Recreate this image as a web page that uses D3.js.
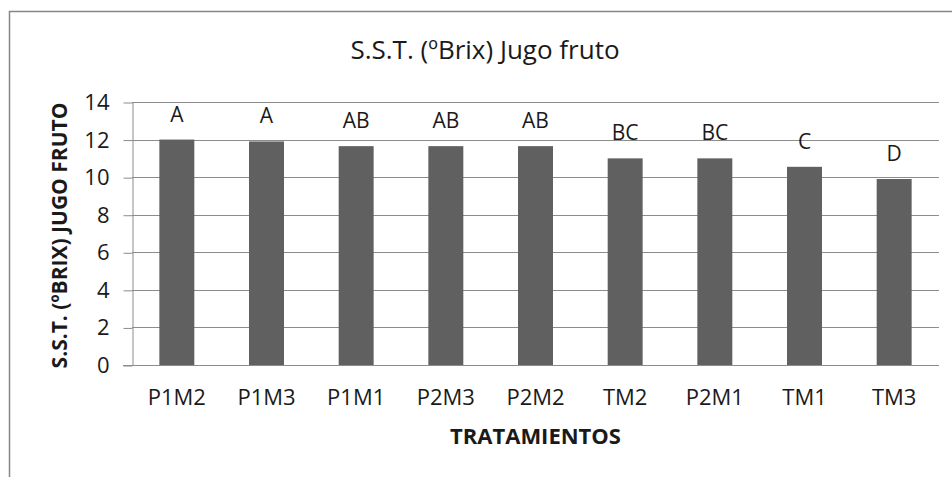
<!DOCTYPE html>
<html lang="es">
<head>
	<meta charset="UTF-8">
	<title>S.S.T. Jugo fruto</title>
	<script type="text/javascript" src="https://cdn.jsdelivr.net/npm/d3@7"></script>
	<style>
		body { margin: 0; background: #fff; }
		text { font-family: "Open Sans", "Noto Sans", sans-serif; fill: #1a1a1a; }
		.grid line { stroke: #8c8c8c; }
	</style>
</head>
<body>
<script type="text/javascript">
	// data
	var tratamientos = ['P1M2', 'P1M3', 'P1M1', 'P2M3', 'P2M2', 'TM2', 'P2M1', 'TM1', 'TM3'];
	var brix = [12.0, 11.9, 11.65, 11.65, 11.65, 11.0, 11.0, 10.55, 9.9];
	var letras = ['A', 'A', 'AB', 'AB', 'AB', 'BC', 'BC', 'C', 'D'];
	var yTicks = [0, 2, 4, 6, 8, 10, 12, 14];

	var W = 952, H = 477;
	var plot = {left: 132, right: 939, top: 102, bottom: 365};

	var svg = d3.select('body')
		.append('svg')
		.attr('width', W)
		.attr('height', H);

	// chart frame (runs past the right and bottom edges of the picture)
	svg.append('rect')
		.attr('x', 9.5)
		.attr('y', 11.5)
		.attr('width', 970)
		.attr('height', 500)
		.attr('fill', 'none')
		.attr('stroke', '#868686')
		.attr('stroke-width', 1.5);

	var x = d3.scaleBand()
		.domain(tratamientos)
		.range([plot.left, plot.right])
		.paddingInner(0.61)
		.paddingOuter(0.305);

	var y = d3.scaleLinear()
		.domain([0, 14])
		.range([plot.bottom, plot.top]);

	// gridlines
	svg.append('g')
		.attr('class', 'grid')
		.selectAll('line')
		.data(yTicks.slice(1))
		.enter().append('line')
		.attr('x1', plot.left)
		.attr('x2', plot.right)
		.attr('y1', function (d) { return Math.round(y(d)) + 0.5; })
		.attr('y2', function (d) { return Math.round(y(d)) + 0.5; });

	// y axis
	var yAxis = svg.append('g')
		.attr('transform', 'translate(' + (plot.left + 0.5) + ',0.5)')
		.call(d3.axisLeft(y).tickValues(yTicks).tickSize(9).tickSizeOuter(0).tickPadding(14));
	yAxis.select('.domain').attr('stroke', '#8c8c8c');
	yAxis.selectAll('.tick line').attr('stroke', '#8c8c8c');
	yAxis.selectAll('.tick text')
		.attr('font-size', 22)
		.attr('fill', '#1a1a1a')
		.attr('font-family', '"Open Sans", sans-serif');

	// bars
	svg.selectAll('.bar')
		.data(tratamientos)
		.enter().append('rect')
		.attr('class', 'bar')
		.attr('x', function (d) { return x(d); })
		.attr('width', x.bandwidth())
		.attr('y', function (d, i) { return y(brix[i]); })
		.attr('height', function (d, i) { return y(0) - y(brix[i]); })
		.attr('fill', '#606060');

	// x axis
	var xAxis = svg.append('g')
		.attr('transform', 'translate(0,' + (plot.bottom + 0.5) + ')')
		.call(d3.axisBottom(x).tickSize(0));
	xAxis.select('.domain').attr('stroke', '#8c8c8c').attr('d', 'M' + (plot.left - 9) + ',0H' + plot.right);
	xAxis.selectAll('.tick text')
		.attr('y', 39)
		.attr('dy', 0)
		.attr('font-size', 22)
		.attr('fill', '#1a1a1a')
		.attr('font-family', '"Open Sans", sans-serif');

	// significance letters
	svg.selectAll('.letra')
		.data(tratamientos)
		.enter().append('text')
		.attr('class', 'letra')
		.attr('x', function (d) { return x(d) + x.bandwidth() / 2; })
		.attr('y', function (d, i) { return y(brix[i]) - 18; })
		.attr('text-anchor', 'middle')
		.attr('font-size', 21)
		.text(function (d, i) { return letras[i]; });

	// title
	svg.append('text')
		.attr('x', 485)
		.attr('y', 59)
		.attr('text-anchor', 'middle')
		.attr('font-size', 26)
		.text('S.S.T. (ºBrix) Jugo fruto');

	// axis titles
	svg.append('text')
		.attr('x', (plot.left + plot.right) / 2)
		.attr('y', 444)
		.attr('text-anchor', 'middle')
		.attr('font-size', 22)
		.attr('font-weight', 'bold')
		.text('TRATAMIENTOS');

	svg.append('text')
		.attr('transform', 'translate(67,' + ((plot.top + plot.bottom) / 2 + 2) + ') rotate(-90)')
		.attr('text-anchor', 'middle')
		.attr('font-size', 21)
		.attr('font-weight', 'bold')
		.text('S.S.T. (ºBRIX) JUGO FRUTO');
</script>
</body>
</html>
